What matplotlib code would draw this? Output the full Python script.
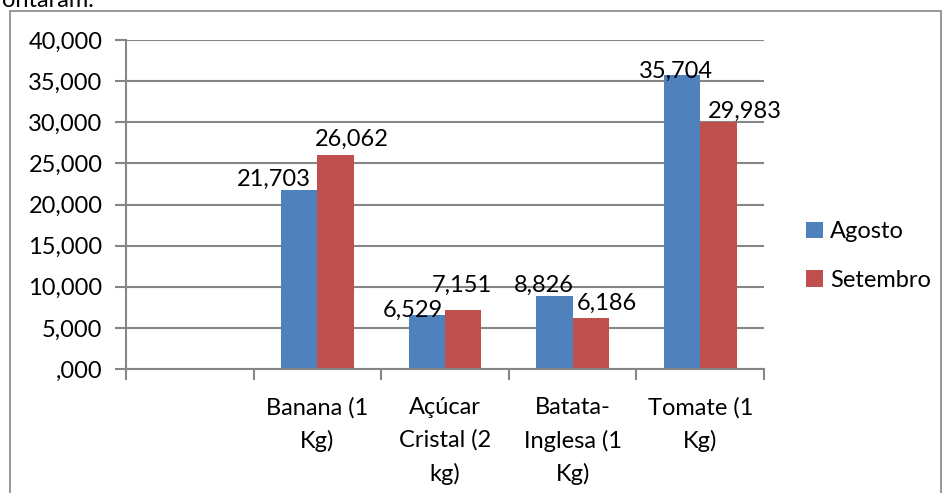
import numpy as np
import matplotlib.pyplot as plt
from matplotlib.patches import Rectangle

plt.rcParams['font.family'] = ['Lato', 'DejaVu Sans']

categories = ["", "Banana (1\nKg)", "Açúcar\nCristal (2\nkg)", "Batata-\nInglesa (1\nKg)", "Tomate (1\nKg)"]
agosto = [np.nan, 21.703, 6.529, 8.826, 35.704]
setembro = [np.nan, 26.062, 7.151, 6.186, 29.983]
yticks = [0, 5, 10, 15, 20, 25, 30, 35, 40]

# label nudges in pixels (dx, dy) as Excel placed them, per category
agosto_nudge = [(0, 0), (-25, 5), (-14, -2), (-10, 5), (-6, -3)]
setembro_nudge = [(0, 0), (16, 9), (-1, 18), (16, 8), (26, 5)]

blue = '#4F81BD'
red = '#C0504D'
grid = '#868686'
FS = 17


def fmt(v):
    s = f"{v:.3f}".replace('.', ',')
    if s.startswith('0,'):
        s = s[1:]
    return s


W, H = 944, 493
fig = plt.figure(figsize=(W / 100, H / 100), dpi=100)

# chart border and the cut-off document text above it
fig.patches.append(Rectangle((10 / W, -0.05), 931 / W, 1 - 11 / H + 0.05,
                             transform=fig.transFigure, fill=False,
                             edgecolor=grid, lw=1.2))
fig.text(2 / W, 1 - 7 / H, "ontaram.", fontsize=FS, va='baseline', ha='left')

ax = fig.add_axes([126 / W, 124 / H, 638 / W, 329 / H])

x = np.arange(len(categories))
bw = 0.286
b1 = ax.bar(x - bw / 2, agosto, bw, color=blue, label='Agosto')
b2 = ax.bar(x + bw / 2, setembro, bw, color=red, label='Setembro')

for bars, vals, nudge in [(b1, agosto, agosto_nudge), (b2, setembro, setembro_nudge)]:
    for rect, v, (dx, dy) in zip(bars, vals, nudge):
        if np.isnan(v):
            continue
        ax.annotate(fmt(v), (rect.get_x() + rect.get_width() / 2, v),
                    xytext=(dx * 0.72, dy * 0.72), textcoords='offset points',
                    ha='center', va='baseline', fontsize=FS)

ax.set_xlim(-0.5, len(categories) - 0.5)
ax.set_ylim(0, 40)
ax.set_yticks(yticks)
ax.set_yticklabels([fmt(v) for v in yticks], fontsize=FS)
ax.yaxis.grid(True, color=grid, lw=1.5)
ax.set_axisbelow(True)

# category labels at centres, tick marks at boundaries
ax.set_xticks(np.arange(-0.5, len(categories)), minor=False)
ax.set_xticklabels([])
ax.set_xticks(x, minor=True)
ax.set_xticklabels(categories, minor=True, fontsize=FS, linespacing=1.65,
                   va='top', ha='center')
ax.tick_params(axis='x', which='minor', length=0, pad=20)
ax.tick_params(axis='x', which='major', length=8, width=1.5, color=grid,
               direction='out')
ax.tick_params(axis='y', length=8, width=1.5, color=grid, pad=9,
               direction='out')

for s in ['top', 'right']:
    ax.spines[s].set_visible(False)
for s in ['left', 'bottom']:
    ax.spines[s].set_color(grid)
    ax.spines[s].set_linewidth(1.5)

leg = fig.legend(handles=[b1, b2], loc='center left',
                 bbox_to_anchor=(785 / W, 1 - 256 / H), frameon=False,
                 fontsize=FS, handlelength=0.7, handleheight=0.7,
                 handletextpad=0.3, labelspacing=1.15)

fig.savefig('out.png', dpi=100)
